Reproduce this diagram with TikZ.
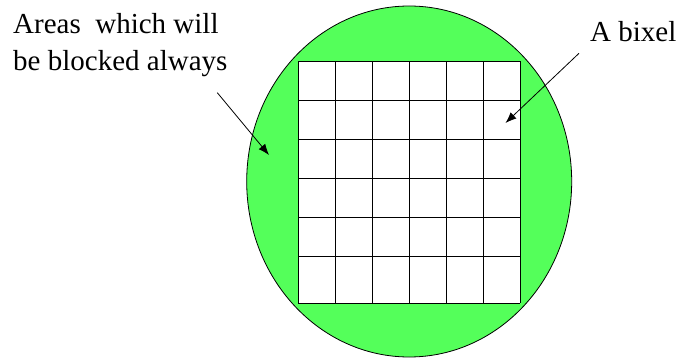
\documentclass[tikz,border=0pt]{standalone}
\usepackage{fontspec}
\setmainfont{Liberation Serif}
\usetikzlibrary{arrows.meta}
\definecolor{bgreen}{RGB}{84,255,90}
\tikzset{
  lbl/.style={anchor=base west, inner sep=0pt, font=\fontsize{29}{35}\selectfont},
  ptr/.style={draw=black, line width=0.8pt, -{Latex[length=11pt,width=8.5pt]}},
  gridline/.style={draw=black, line width=0.9pt}
}
\begin{document}
\begin{tikzpicture}[x=1pt,y=-1pt]
\useasboundingbox (0,0) rectangle (677,358);
% wafer
\draw[fill=bgreen, line width=0.8pt] (409.2,181.5) ellipse [x radius=162.5, y radius=175.5];
% grid
\fill[white] (298.3,61.3) rectangle (520.3,303.3);
\foreach \x in {298.3,335.3,372.3,409.3,446.3,483.3,520.3}
  \draw[gridline] (\x,61.3) -- (\x,303.3);
\foreach \y in {61.3,100.3,139.3,178.5,217.6,256.7,303.3}
  \draw[gridline] (298.3,\y) -- (520.3,\y);
% labels
\node[lbl] (areasA) at (13,34) {Areas\ \ which will};
\node[lbl] (areasB) at (13,70.5) {be blocked always};
\node[lbl] (bixel) at (590,41.7) {A bixel};
% arrows
\coordinate (a1s) at (217.3,92.7);
\coordinate (a1t) at (269,155);
\coordinate (a2s) at (579,53.3);
\coordinate (a2t) at (505.5,123);
\draw[ptr] (a1s) -- (a1t);
\draw[ptr] (a2s) -- (a2t);
\end{tikzpicture}
\end{document}
